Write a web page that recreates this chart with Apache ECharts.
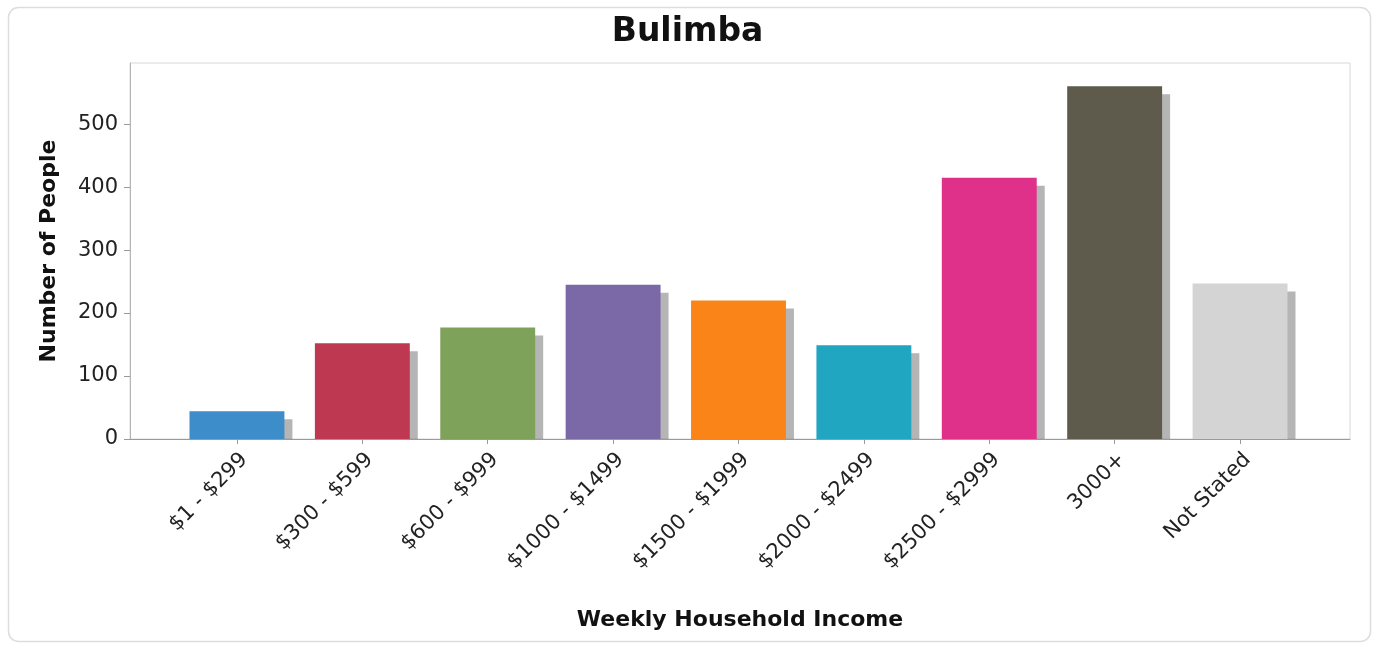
<!DOCTYPE html>
<html>
<head>
<meta charset="utf-8">
<script src="https://cdn.jsdelivr.net/npm/echarts@6/dist/echarts.min.js"></script>
<style>
html,body{margin:0;padding:0;background:#fff;}
#chart{width:1375px;height:646px;}
</style>
</head>
<body>
<div id="chart"></div>
<script>
const categories = ['$1 - $299', '$300 - $599', '$600 - $999', '$1000 - $1499', '$1500 - $1999', '$2000 - $2499', '$2500 - $2999', '3000+', 'Not Stated'];
const values = [44, 152, 177, 245, 220, 149, 415, 560, 247];
const barColors = ['#3d8dca', '#bf3852', '#7fa25b', '#7a69a6', '#fb8418', '#21a6c2', '#e0318a', '#5e5a4c', '#d4d4d4'];
const yTicks = [0, 100, 200, 300, 400, 500];
const chartTitle = 'Bulimba';
const xName = 'Weekly Household Income';
const yName = 'Number of People';

const idx = categories.map((c, i) => i);
const chart = echarts.init(document.getElementById('chart'));
chart.setOption({
  backgroundColor: '#fff',
  animation: false,
  title: {
    text: chartTitle, left: 'center', top: 11,
    textStyle: {fontFamily: 'DejaVu Sans', fontWeight: 'bold', fontSize: 33, color: '#111'}
  },
  graphic: [{
    type: 'rect', left: 6, top: 5, z: -10,
    shape: {width: 1362, height: 634, r: 10},
    style: {fill: 'none', stroke: '#dddddd', lineWidth: 1.5}
  }],
  grid: {left: 130, right: 25, top: 63, bottom: 207, show: true, borderColor: '#d8d8d8', borderWidth: 1},
  xAxis: {
    type: 'value', min: -0.853, max: 8.877,
    name: xName, nameLocation: 'middle', nameGap: 170,
    nameTextStyle: {fontFamily: 'DejaVu Sans', fontWeight: 'bold', fontSize: 22, color: '#111'},
    splitLine: {show: false},
    axisLine: {show: true, onZero: false, lineStyle: {color: '#9a9a9a', width: 1}},
    axisTick: {show: true, customValues: idx, length: 5, lineStyle: {color: '#9a9a9a'}},
    axisLabel: {
      customValues: idx, rotate: 45, margin: 10, verticalAlign: 'top',
      fontFamily: 'DejaVu Sans', fontSize: 21, color: '#222',
      formatter: v => categories[Math.round(v)]
    }
  },
  yAxis: {
    type: 'value', min: 0, max: 597, interval: 100,
    name: yName, nameLocation: 'middle', nameGap: 70, nameRotate: 90,
    nameTextStyle: {fontFamily: 'DejaVu Sans', fontWeight: 'bold', fontSize: 22, color: '#111'},
    splitLine: {show: false},
    axisLine: {show: true, onZero: false, lineStyle: {color: '#b5b5b5'}},
    axisTick: {show: true, customValues: yTicks, length: 6, lineStyle: {color: '#9a9a9a'}},
    axisLabel: {customValues: yTicks, margin: 12, fontFamily: 'DejaVu Sans', fontSize: 21, color: '#222'}
  },
  series: [{
    type: 'custom',
    data: values.map((v, i) => [i, v]),
    encode: {x: 0, y: 1},
    renderItem: function (params, api) {
      const i = api.value(0);
      const top = api.coord([i, api.value(1)]);
      const base = api.coord([i, 0]);
      const w = api.size([0.757, 0])[0];
      const h = base[1] - top[1];
      return {
        type: 'group',
        children: [
          {type: 'rect', shape: {x: top[0] - w / 2 + 8, y: top[1] + 8, width: w, height: h - 8},
           style: {fill: 'rgba(90,90,90,0.45)'}},
          {type: 'rect', shape: {x: top[0] - w / 2, y: top[1], width: w, height: h},
           style: {fill: barColors[params.dataIndex]}}
        ]
      };
    }
  }]
});
</script>
</body>
</html>
